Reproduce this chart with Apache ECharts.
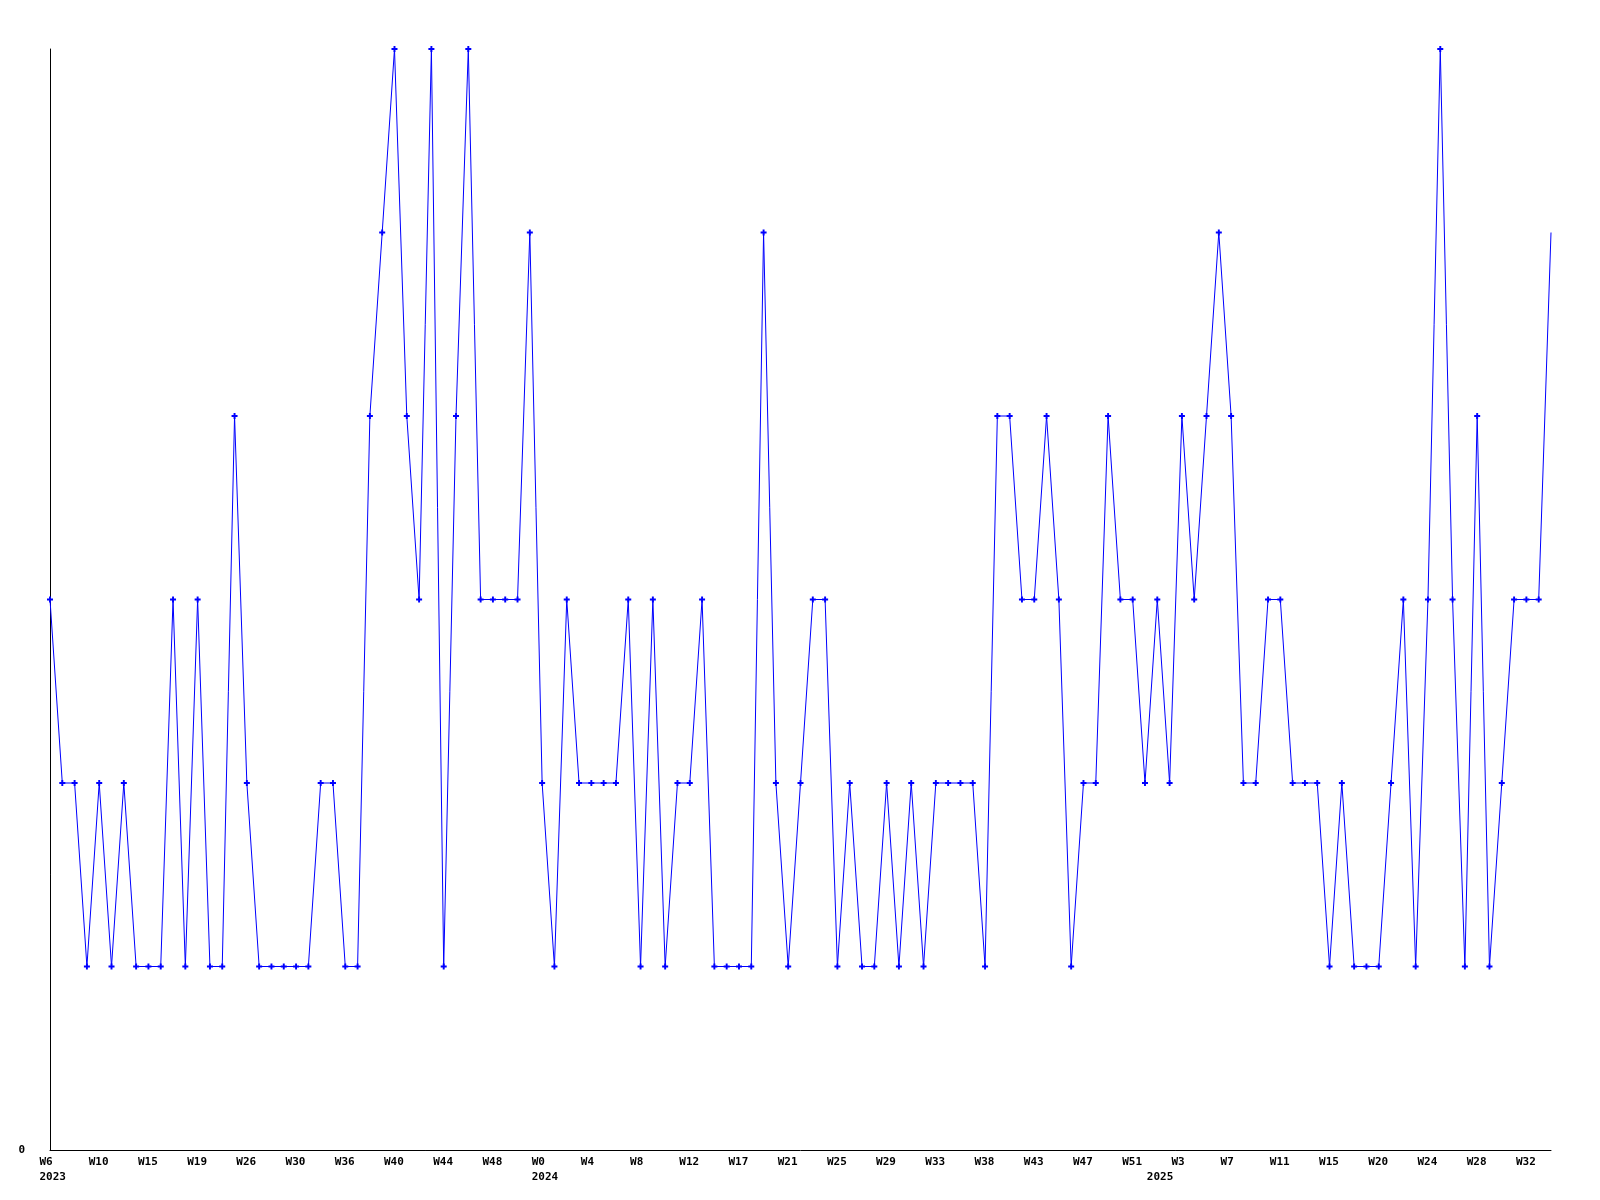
<!DOCTYPE html>
<html>
<head>
<meta charset="utf-8">
<script src="https://cdn.jsdelivr.net/npm/echarts@6/dist/echarts.min.js"></script>
<style>
  html, body { margin: 0; padding: 0; background: #ffffff; }
  #chart { width: 1600px; height: 1200px; }
</style>
</head>
<body>
<div id="chart"></div>
<script>
// weekly values, one per sample
const values = [
  3,2,2,1,2,1,2,1,1,1,
  3,1,3,1,1,4,2,1,1,1,
  1,1,2,2,1,1,4,5,6,4,
  3,6,1,4,6,3,3,3,3,5,
  2,1,3,2,2,2,2,3,1,3,
  1,2,2,3,1,1,1,1,5,2,
  1,2,3,3,1,2,1,1,2,1,
  2,1,2,2,2,2,1,4,4,3,
  3,4,3,1,2,2,4,3,3,2,
  3,2,4,3,4,5,4,2,2,3,
  3,2,2,2,1,2,1,1,1,2,
  3,1,3,6,3,1,4,1,2,3,
  3,3,5
];
// x tick labels, one every 4 samples
const weekLabels = ['W6','W10','W15','W19','W26','W30','W36','W40','W44','W48',
  'W0','W4','W8','W12','W17','W21','W25','W29','W33','W38','W43','W47','W51',
  'W3','W7','W11','W15','W20','W24','W28','W32'];
const weekStep = 4;
// year labels and the sample index where each year starts
const yearLabels = ['2023','2024','2025'];
const yearIdx = [0, 40, 90];
// y tick labels
const yTickValues = [0];

const lastIdx = values.length - 1;
const seriesData = values.map((v, i) => i === lastIdx ? { value: [i, v], symbol: 'none' } : [i, v]);
const weekTicks = weekLabels.map((_, i) => i * weekStep);

const font = '"DejaVu Sans Mono", "Liberation Mono", monospace';

const chart = echarts.init(document.getElementById('chart'), null, { renderer: 'canvas' });
chart.setOption({
  animation: false,
  backgroundColor: '#ffffff',
  grid: { left: 50, right: 49, top: 49, bottom: 50, containLabel: false },
  xAxis: [
    {
      type: 'value', min: 0, max: lastIdx,
      axisLine: { show: true, lineStyle: { color: '#000000', width: 1 } },
      axisTick: { show: false },
      splitLine: { show: false },
      axisLabel: {
        customValues: weekTicks,
        margin: 7,
        fontFamily: font, fontSize: 11, fontWeight: 'bold', color: '#000000',
        formatter: v => '{w|' + weekLabels[Math.round(v / weekStep)] + '}',
        rich: { w: { width: 21, align: 'left', fontFamily: font, fontSize: 11, fontWeight: 'bold', color: '#000000' } }
      }
    },
    {
      type: 'value', min: 0, max: lastIdx, position: 'bottom',
      axisLine: { show: false },
      axisTick: { show: false },
      splitLine: { show: false },
      axisLabel: {
        customValues: yearIdx,
        margin: 22,
        fontFamily: font, fontSize: 11, fontWeight: 'bold', color: '#000000',
        formatter: v => '{y|' + yearLabels[yearIdx.indexOf(Math.round(v))] + '}',
        rich: { y: { width: 21, align: 'left', fontFamily: font, fontSize: 11, fontWeight: 'bold', color: '#000000' } }
      }
    }
  ],
  yAxis: {
    type: 'value', min: 0, max: 6,
    axisLine: { show: true, lineStyle: { color: '#000000', width: 1 } },
    axisTick: { show: false },
    splitLine: { show: false },
    axisLabel: {
      customValues: yTickValues,
      margin: 25,
      fontFamily: font, fontSize: 11, fontWeight: 'bold', color: '#000000'
    }
  },
  series: [{
    type: 'line',
    xAxisIndex: 0,
    data: seriesData,
    lineStyle: { color: '#0000ff', width: 1 },
    itemStyle: { color: '#0000ff', borderWidth: 0, borderColor: '#0000ff' },
    symbol: 'path://M1.7,0H3.3V1.7H5V3.3H3.3V5H1.7V3.3H0V1.7H1.7Z',
    symbolSize: 6,
    showSymbol: true,
    showAllSymbol: true,
    clip: false
  }]
});
</script>
</body>
</html>
